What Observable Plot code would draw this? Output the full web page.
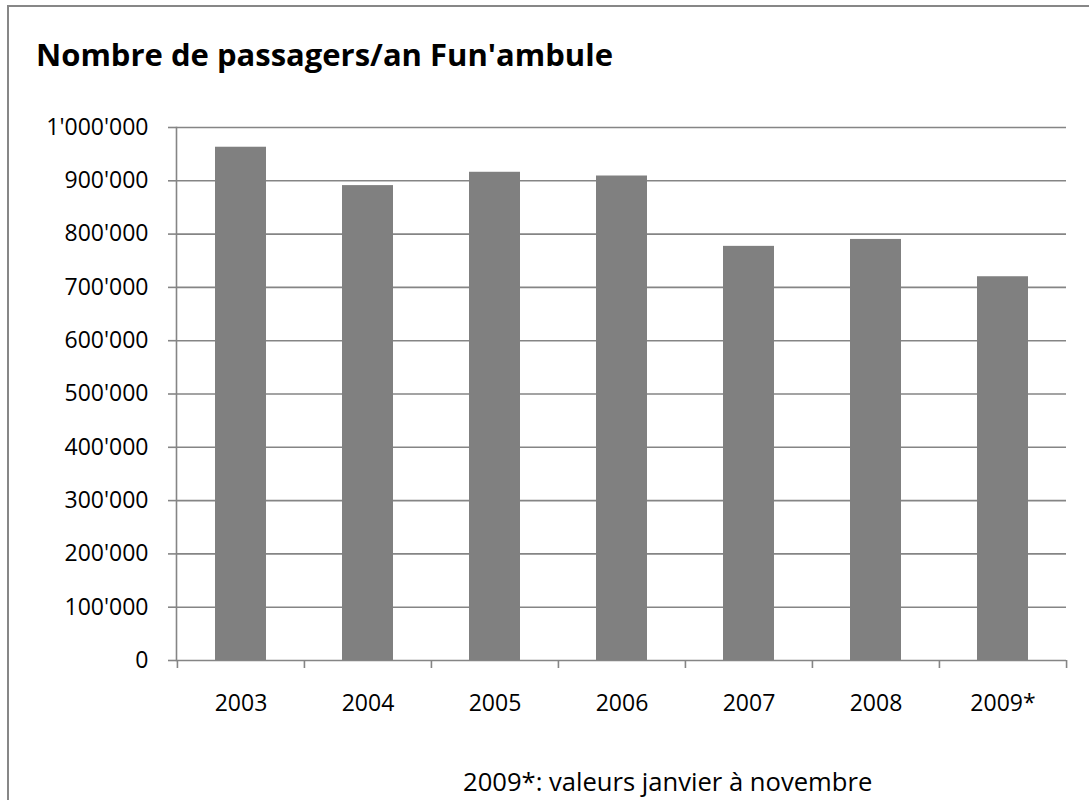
<!DOCTYPE html>
<html>
<head>
<meta charset="utf-8">
<script src="https://cdn.jsdelivr.net/npm/d3@7"></script>
<script src="https://cdn.jsdelivr.net/npm/@observablehq/plot@0.6"></script>
<style>
  html, body { margin: 0; padding: 0; background: #fff; }
  body { width: 1089px; height: 800px; position: relative; overflow: hidden; font-family: "Open Sans", sans-serif; }
  #frame { position: absolute; left: 7px; top: 5px; width: 1100px; height: 820px;
           border-left: 2px solid #878787; border-top: 2px solid #878787; box-sizing: border-box; }
  #title { position: absolute; left: 36px; top: 33px; margin: 0; font-size: 31px; font-weight: 700;
           line-height: normal; color: #000; white-space: nowrap; }
  #chart { position: absolute; left: 0; top: 90px; }
  #caption { position: absolute; left: 463px; top: 764px; font-size: 25.6px; line-height: normal; color: #000; white-space: nowrap; }
</style>
</head>
<body>
<div id="frame"></div>
<div id="title">Nombre de passagers/an Fun'ambule</div>
<div id="chart"></div>
<div id="caption">2009*: valeurs janvier à novembre</div>
<script>
const years = ["2003", "2004", "2005", "2006", "2007", "2008", "2009*"];
const passengers = [963000, 891000, 916000, 909000, 777000, 790000, 720000];
const yTicks = [0, 100000, 200000, 300000, 400000, 500000, 600000, 700000, 800000, 900000, 1000000];

const data = years.map((y, i) => ({year: y, value: passengers[i]}));

const W = 1089, H = 640, mL = 176, mR = 23, mT = 37, mB = 70;
const step = (W - mL - mR) / years.length;
const grey = "#858585";
const fmt = v => d3.format(",")(v).replace(/,/g, "'");

const plot = Plot.plot({
  width: W,
  height: H,
  marginLeft: mL,
  marginRight: mR,
  marginTop: mT,
  marginBottom: mB,
  style: {fontFamily: "Open Sans, sans-serif", fontSize: "23px", color: "#000", background: "transparent"},
  x: {domain: years, paddingInner: 0.6, paddingOuter: 0.3, label: null},
  y: {domain: [0, 1000000], label: null},
  marks: [
    Plot.ruleY(yTicks, {stroke: grey, strokeWidth: 1.6, strokeOpacity: 1}),
    Plot.barY(data, {x: "year", y: "value", fill: "#808080"}),
    Plot.frame({anchor: "left", stroke: grey, strokeWidth: 1.6}),
    Plot.ruleX(years, {x: d => d, y1: 0, y2: 0, insetBottom: -8, dx: -step / 2, stroke: grey, strokeWidth: 1.6}),
    Plot.ruleX([years[years.length - 1]], {x: d => d, y1: 0, y2: 0, insetBottom: -8, dx: step / 2, stroke: grey, strokeWidth: 1.6}),
    Plot.axisY({ticks: yTicks, tickFormat: fmt, tickSize: 8, tickPadding: 20, stroke: grey, strokeWidth: 1.6, strokeOpacity: 1, label: null, fill: "#000"}),
    Plot.axisX({tickSize: 0, tickPadding: 34, label: null, fill: "#000"})
  ]
});
document.getElementById("chart").appendChild(plot);
</script>
</body>
</html>
